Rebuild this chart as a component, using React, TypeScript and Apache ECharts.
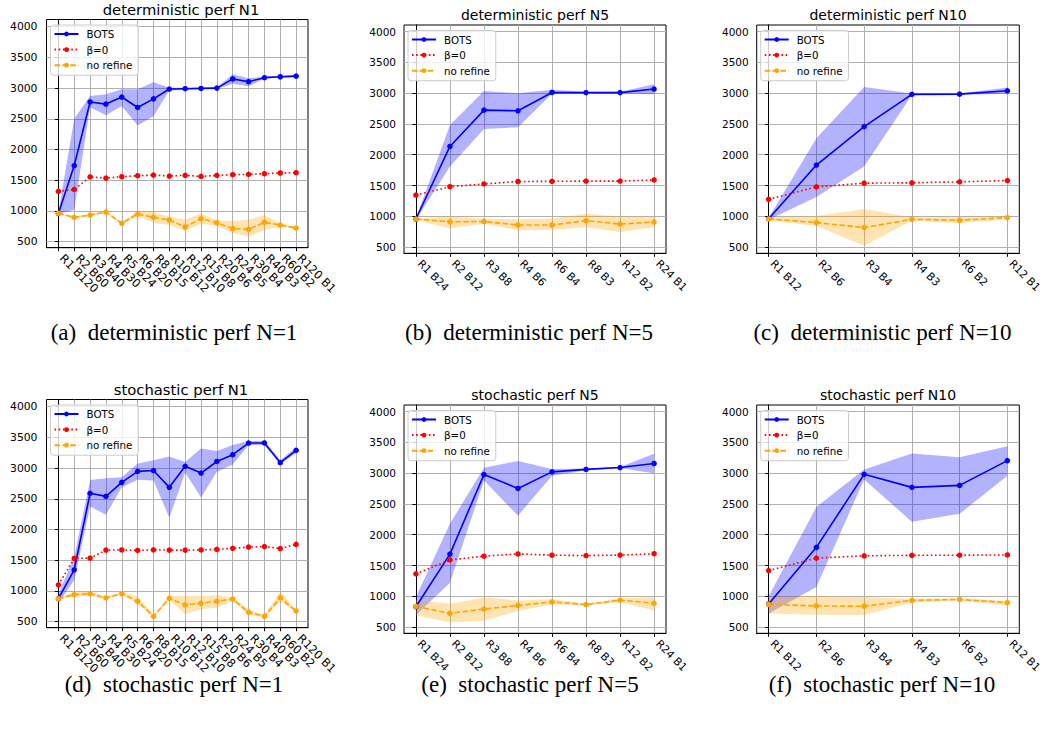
import React, { useEffect, useRef } from 'react';
import * as echarts from 'echarts';

// ---------- categories ----------
const cats1 = ['R1 B120', 'R2 B60', 'R3 B40', 'R4 B30', 'R5 B24', 'R6 B20', 'R8 B15', 'R10 B12', 'R12 B10', 'R15 B8', 'R20 B6', 'R24 B5', 'R30 B4', 'R40 B3', 'R60 B2', 'R120 B1'];
const cats5 = ['R1 B24', 'R2 B12', 'R3 B8', 'R4 B6', 'R6 B4', 'R8 B3', 'R12 B2', 'R24 B1'];
const cats10 = ['R1 B12', 'R2 B6', 'R3 B4', 'R4 B3', 'R6 B2', 'R12 B1'];
const yTicks = [500, 1000, 1500, 2000, 2500, 3000, 3500, 4000];

// ---------- (a) deterministic N1 ----------
const botsA = [960, 1740, 2775, 2740, 2855, 2685, 2825, 2985, 2990, 2995, 3000, 3150, 3105, 3170, 3185, 3195];
const botsALo = [950, 1020, 2690, 2560, 2710, 2390, 2540, 2960, 2975, 2985, 2985, 3070, 3030, 3155, 3170, 3175];
const botsAHi = [975, 2500, 2870, 2900, 2980, 2980, 3095, 3005, 3005, 3005, 3010, 3225, 3160, 3185, 3200, 3215];
const betaA = [1320, 1350, 1555, 1535, 1558, 1574, 1585, 1569, 1580, 1563, 1580, 1591, 1596, 1607, 1618, 1623];
const noA = [961, 896, 934, 983, 798, 950, 896, 853, 739, 874, 809, 712, 701, 815, 771, 722];
const noALo = [945, 880, 920, 965, 785, 915, 810, 770, 675, 790, 755, 640, 580, 690, 745, 705];
const noAHi = [975, 910, 950, 1000, 815, 1005, 985, 905, 855, 960, 850, 835, 855, 935, 800, 740];

// ---------- (b) deterministic N5 ----------
const botsB = [955, 2135, 2725, 2715, 3012, 3010, 3010, 3068];
const botsBLo = [945, 1810, 2420, 2445, 2990, 2995, 2995, 2985];
const botsBHi = [965, 2485, 3035, 3000, 3055, 3025, 3025, 3145];
const betaB = [1345, 1480, 1525, 1565, 1568, 1572, 1572, 1590];
const noB = [955, 910, 915, 858, 858, 928, 873, 906];
const noBLo = [940, 800, 880, 770, 775, 820, 745, 820];
const noBHi = [965, 1000, 960, 950, 965, 1040, 995, 995];

// ---------- (c) deterministic N10 ----------
const botsC = [960, 1832, 2457, 2982, 2985, 3040];
const botsCLo = [945, 1315, 1810, 2970, 2975, 2990];
const botsCHi = [975, 2267, 3100, 2995, 2995, 3095];
const betaC = [1275, 1478, 1538, 1544, 1560, 1581];
const noC = [957, 897, 816, 951, 935, 978];
const noCLo = [930, 840, 522, 930, 886, 951];
const noCHi = [985, 1005, 1120, 985, 984, 1005];

// ---------- (d) stochastic N1 ----------
const botsD = [875, 1345, 2590, 2540, 2768, 2947, 2960, 2687, 3030, 2920, 3108, 3218, 3408, 3410, 3088, 3290];
const botsDLo = [800, 1180, 2375, 2240, 2690, 2810, 2800, 2190, 2930, 2520, 2940, 3060, 3375, 3375, 3065, 3245];
const botsDHi = [960, 1550, 2805, 2835, 2850, 3075, 3130, 3190, 3100, 3320, 3280, 3375, 3440, 3445, 3130, 3345];
const betaD = [1100, 1530, 1535, 1665, 1668, 1660, 1670, 1665, 1665, 1668, 1677, 1694, 1715, 1722, 1690, 1759];
const noD = [875, 940, 957, 886, 957, 832, 587, 880, 772, 799, 832, 870, 652, 587, 886, 674];
const noDLo = [853, 918, 918, 864, 940, 788, 571, 859, 620, 701, 728, 837, 609, 571, 826, 652];
const noDHi = [897, 978, 989, 908, 978, 913, 609, 913, 924, 913, 929, 891, 701, 609, 990, 701];

// ---------- (e) stochastic N5 ----------
const botsE = [830, 1685, 2978, 2752, 3022, 3062, 3092, 3158];
const botsELo = [690, 1220, 2880, 2310, 2960, 3050, 3080, 3000];
const botsEHi = [990, 2180, 3090, 3200, 3070, 3075, 3100, 3315];
const betaE = [1365, 1590, 1652, 1688, 1668, 1662, 1670, 1692];
const noE = [835, 722, 792, 850, 908, 866, 938, 886];
const noELo = [690, 575, 600, 760, 870, 850, 905, 770];
const noEHi = [940, 880, 980, 930, 950, 880, 965, 990];

// ---------- (f) stochastic N10 ----------
const botsF = [875, 1795, 2982, 2770, 2802, 3205];
const botsFLo = [720, 1150, 2900, 2210, 2340, 2960];
const botsFHi = [1000, 2450, 3060, 3320, 3260, 3440];
const betaF = [1418, 1620, 1658, 1665, 1668, 1672];
const noF = [868, 843, 838, 933, 948, 898];
const noFLo = [720, 700, 695, 900, 930, 855];
const noFHi = [1000, 1000, 990, 960, 970, 925];

const titles = ['deterministic perf N1', 'deterministic perf N5', 'deterministic perf N10', 'stochastic perf N1', 'stochastic perf N5', 'stochastic perf N10'];
const capTags = ['(a)', '(b)', '(c)', '(d)', '(e)', '(f)'];
const capTexts = ['deterministic perf N=1', 'deterministic perf N=5', 'deterministic perf N=10', 'stochastic perf N=1', 'stochastic perf N=5', 'stochastic perf N=10'];
const legendNames = ['BOTS', 'β=0', 'no refine'];

const panels = [
  { cats: cats1, bots: botsA, botsLo: botsALo, botsHi: botsAHi, beta: betaA, no: noA, noLo: noALo, noHi: noAHi },
  { cats: cats5, bots: botsB, botsLo: botsBLo, botsHi: botsBHi, beta: betaB, no: noB, noLo: noBLo, noHi: noBHi },
  { cats: cats10, bots: botsC, botsLo: botsCLo, botsHi: botsCHi, beta: betaC, no: noC, noLo: noCLo, noHi: noCHi },
  { cats: cats1, bots: botsD, botsLo: botsDLo, botsHi: botsDHi, beta: betaD, no: noD, noLo: noDLo, noHi: noDHi },
  { cats: cats5, bots: botsE, botsLo: botsELo, botsHi: botsEHi, beta: betaE, no: noE, noLo: noELo, noHi: noEHi },
  { cats: cats10, bots: botsF, botsLo: botsFLo, botsHi: botsFHi, beta: betaF, no: noF, noLo: noFLo, noHi: noFHi },
];

// layout (pixels)
const boxes = [
  { left: 46.5, top: 19.5, width: 261.5, height: 228.2, yMin: 402, yMax: 4117, titleX: 181, titleY: 9.5, titleSize: 14.8, capX: 174, capY: 332.5, xfs: 11.5, yfs: 10.8, ymargin: 9 },
  { left: 404, top: 25, width: 262, height: 228.3, yMin: 398, yMax: 4109, titleX: 535, titleY: 14.5, titleSize: 14, capX: 529, capY: 332.5, xfs: 10.8, yfs: 10.5, ymargin: 8 },
  { left: 756.7, top: 25, width: 262.6, height: 228.3, yMin: 398, yMax: 4109, titleX: 888, titleY: 14.5, titleSize: 14, capX: 882.5, capY: 332.5, xfs: 10.8, yfs: 10.5, ymargin: 8 },
  { left: 46.5, top: 399.5, width: 261.5, height: 228.2, yMin: 402, yMax: 4117, titleX: 181, titleY: 389.5, titleSize: 14.8, capX: 174, capY: 684, xfs: 11.5, yfs: 10.8, ymargin: 9 },
  { left: 404, top: 405, width: 262, height: 228.3, yMin: 398, yMax: 4109, titleX: 535, titleY: 394.5, titleSize: 14, capX: 530, capY: 684, xfs: 10.8, yfs: 10.5, ymargin: 8 },
  { left: 756.7, top: 405, width: 262.6, height: 228.3, yMin: 398, yMax: 4109, titleX: 888, titleY: 394.5, titleSize: 14, capX: 882, capY: 684, xfs: 10.8, yfs: 10.5, ymargin: 8 },
];

const FONT = 'DejaVu Sans';
const BLUE = '#0000ff';
const RED = '#ff0000';
const ORANGE = '#ffa500';

function bandSeries(k: number, lo: number[], hi: number[], color: string) {
  return {
    type: 'custom',
    xAxisIndex: k,
    yAxisIndex: k,
    silent: true,
    clip: true,
    z: 1,
    data: [[0, lo[0]]],
    renderItem: (_params: any, api: any) => {
      const up = hi.map((v, i) => api.coord([i, v]));
      const down = lo.map((v, i) => api.coord([i, v])).reverse();
      return {
        type: 'polygon',
        shape: { points: up.concat(down) },
        style: { fill: color, stroke: 'none' },
      };
    },
  };
}

function buildOption() {
  const grid: any[] = [];
  const xAxis: any[] = [];
  const xAxisOdd: any[] = [];
  const yAxis: any[] = [];
  const series: any[] = [];
  const legend: any[] = [];
  const graphic: any[] = [];

  panels.forEach((p, k) => {
    const b = boxes[k];
    const n = p.cats.length;
    const pad = 0.05 * (n - 1);
    const idx = p.cats.map((_, i) => i);
    const even = idx.filter((i) => i % 2 === 0);
    const odd = idx.filter((i) => i % 2 === 1);
    grid.push({
      left: b.left, top: b.top, width: b.width, height: b.height,
      show: true, borderColor: '#000', borderWidth: 1, backgroundColor: 'transparent',
      containLabel: false, outerBoundsMode: 'none',
    });
    const labelBase = {
      formatter: (v: number) => p.cats[Math.round(v)] ?? '',
      rotate: -45, margin: 5, fontSize: b.xfs, fontFamily: FONT, color: '#000',
      padding: [0, 0, 0, 5],
      showMinLabel: true, showMaxLabel: true, hideOverlap: false,
    };
    // main x axis: ticks, grid lines, even-indexed labels
    xAxis.push({
      type: 'value', gridIndex: k, position: 'bottom', min: -pad, max: n - 1 + pad,
      axisLine: { show: true, lineStyle: { color: '#000', width: 1 } },
      axisTick: { show: true, customValues: idx, length: 3.5, lineStyle: { color: '#000', width: 1 } },
      axisLabel: { ...labelBase, customValues: even },
      splitLine: { show: true, lineStyle: { color: '#b0b0b0', width: 1 } },
    });
    // companion x axis: odd-indexed labels only
    xAxisOdd.push({
      type: 'value', gridIndex: k, position: 'bottom', offset: 0, min: -pad, max: n - 1 + pad,
      axisLine: { show: false },
      axisTick: { show: false, customValues: odd },
      axisLabel: { ...labelBase, customValues: odd },
      splitLine: { show: false },
    });
    yAxis.push({
      type: 'value', gridIndex: k, min: b.yMin, max: b.yMax,
      axisLine: { show: true, lineStyle: { color: '#000', width: 1 } },
      axisTick: { show: true, customValues: yTicks, length: 3.5, lineStyle: { color: '#000', width: 1 } },
      axisLabel: {
        customValues: yTicks, formatter: (v: number) => String(v),
        margin: b.ymargin, fontSize: b.yfs, fontFamily: FONT, color: '#000',
        showMinLabel: true, showMaxLabel: true, hideOverlap: false,
      },
      splitLine: { show: true, lineStyle: { color: '#b0b0b0', width: 1 } },
    });

    series.push(bandSeries(k, p.botsLo, p.botsHi, 'rgba(0,0,255,0.3)'));
    series.push(bandSeries(k, p.noLo, p.noHi, 'rgba(255,165,0,0.3)'));

    const common = { type: 'line', xAxisIndex: k, yAxisIndex: k, symbol: 'circle', symbolSize: 5.5, showSymbol: true, z: 3 };
    series.push({
      ...common, name: 'BOTS', data: idx.map((i) => [i, p.bots[i]]),
      lineStyle: { color: BLUE, width: 1.6, type: 'solid' }, itemStyle: { color: BLUE },
    });
    series.push({
      ...common, name: 'β=0', data: idx.map((i) => [i, p.beta[i]]),
      lineStyle: { color: RED, width: 1.6, type: [1.6, 2.6] }, itemStyle: { color: RED },
    });
    series.push({
      ...common, name: 'no refine', data: idx.map((i) => [i, p.no[i]]),
      lineStyle: { color: ORANGE, width: 1.6, type: [5.5, 2.4] }, itemStyle: { color: ORANGE },
    });

    legend.push({
      orient: 'vertical', left: b.left + 4, top: b.top + 5.5,
      itemWidth: 24, itemHeight: 6, itemGap: 3.6,
      padding: [3, 6, 4, 3],
      backgroundColor: 'rgba(255,255,255,0.8)', borderColor: '#cccccc', borderWidth: 1, borderRadius: 3,
      selectedMode: false,
      textStyle: { fontSize: 10.3, fontFamily: FONT, color: '#000', lineHeight: 12, padding: [0, 0, 0, 3] },
      data: legendNames,
    });

    graphic.push({
      type: 'text', x: b.titleX, y: b.titleY,
      style: { text: titles[k], fill: '#000', font: `${b.titleSize}px "DejaVu Sans"`, textAlign: 'center', textVerticalAlign: 'middle' },
    });
    graphic.push({
      type: 'text', x: b.capX, y: b.capY,
      style: { text: `${capTags[k]}\u2002${capTexts[k]}`, fill: '#000', font: '23px "Liberation Serif"', textAlign: 'center', textVerticalAlign: 'middle' },
    });
  });

  return {
    animation: false,
    backgroundColor: '#ffffff',
    grid, xAxis: xAxis.concat(xAxisOdd), yAxis, series, legend, graphic,
  };
}

export default function App() {
  const ref = useRef<HTMLDivElement>(null);
  useEffect(() => {
    const chart = echarts.init(ref.current!, null, { renderer: 'svg' });
    chart.setOption(buildOption() as any);
    return () => chart.dispose();
  }, []);
  return (
    <div
      ref={ref}
      style={{ position: 'fixed', left: 0, top: 0, width: 1045, height: 732, background: '#fff' }}
    />
  );
}
